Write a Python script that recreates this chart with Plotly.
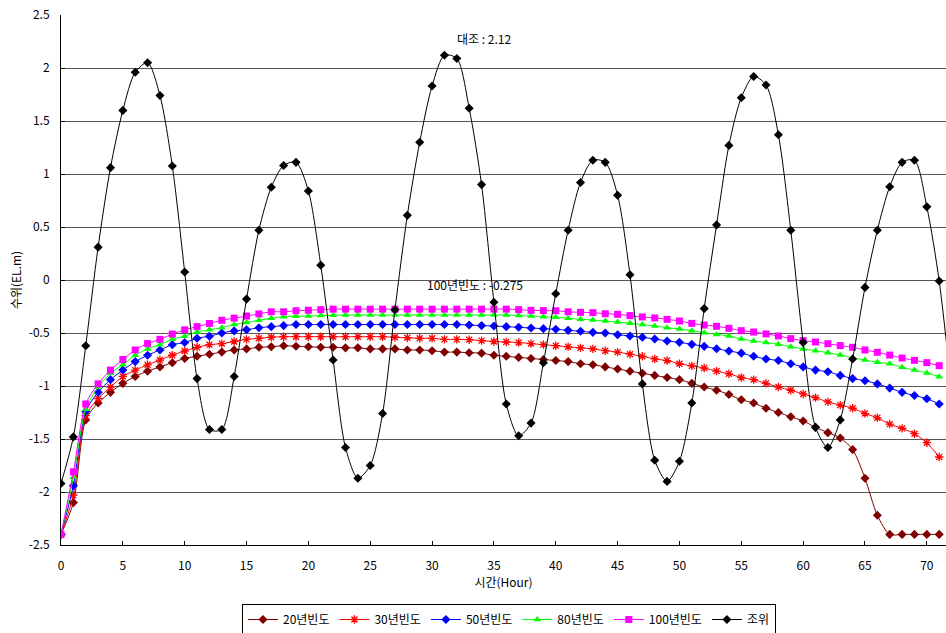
import plotly.graph_objects as go

# Hourly series (hour 0..71); the tide record runs one hour further
hours = list(range(0, 72))
tide_hours = list(range(0, 73))

freq20 = [-2.40, -2.10, -1.32, -1.16, -1.06, -0.975, -0.91, -0.86, -0.82, -0.78,
          -0.74, -0.72, -0.70, -0.68, -0.66, -0.65, -0.635, -0.63, -0.62, -0.625,
          -0.63, -0.635, -0.635, -0.64, -0.64, -0.65, -0.65, -0.65, -0.66, -0.66,
          -0.667, -0.68, -0.68, -0.686, -0.69, -0.71, -0.72, -0.73, -0.74, -0.75,
          -0.76, -0.77, -0.79, -0.80, -0.82, -0.84, -0.86, -0.88, -0.90, -0.92,
          -0.94, -0.975, -1.01, -1.04, -1.08, -1.13, -1.16, -1.21, -1.25, -1.29,
          -1.33, -1.39, -1.44, -1.49, -1.60, -1.87, -2.22, -2.40, -2.40, -2.40,
          -2.40, -2.40]

freq30 = [-2.40, -2.03, -1.28, -1.12, -1.01, -0.91, -0.85, -0.80, -0.755, -0.71,
          -0.67, -0.635, -0.61, -0.60, -0.58, -0.56, -0.55, -0.54, -0.535, -0.535,
          -0.535, -0.535, -0.535, -0.535, -0.535, -0.535, -0.535, -0.54, -0.545, -0.55,
          -0.55, -0.56, -0.56, -0.563, -0.572, -0.58, -0.585, -0.59, -0.60, -0.61,
          -0.62, -0.63, -0.64, -0.65, -0.667, -0.68, -0.70, -0.72, -0.745, -0.76,
          -0.79, -0.81, -0.83, -0.86, -0.885, -0.92, -0.94, -0.975, -1.01, -1.04,
          -1.075, -1.11, -1.15, -1.18, -1.21, -1.26, -1.30, -1.36, -1.40, -1.45,
          -1.535, -1.67]

freq50 = [-2.40, -1.94, -1.24, -1.06, -0.94, -0.85, -0.77, -0.71, -0.66, -0.61,
          -0.59, -0.55, -0.53, -0.50, -0.48, -0.47, -0.45, -0.44, -0.43, -0.42,
          -0.42, -0.42, -0.42, -0.42, -0.42, -0.42, -0.42, -0.42, -0.42, -0.42,
          -0.42, -0.42, -0.42, -0.425, -0.43, -0.434, -0.44, -0.446, -0.453, -0.459,
          -0.465, -0.475, -0.484, -0.494, -0.50, -0.516, -0.528, -0.54, -0.557, -0.575,
          -0.588, -0.607, -0.626, -0.648, -0.67, -0.69, -0.72, -0.745, -0.76, -0.79,
          -0.82, -0.85, -0.865, -0.90, -0.93, -0.95, -0.98, -1.02, -1.06, -1.09,
          -1.12, -1.17]

freq80 = [-2.40, -1.86, -1.22, -1.01, -0.88, -0.80, -0.71, -0.65, -0.61, -0.56,
          -0.53, -0.49, -0.47, -0.45, -0.42, -0.40, -0.38, -0.36, -0.346, -0.343,
          -0.34, -0.336, -0.333, -0.33, -0.33, -0.33, -0.33, -0.33, -0.33, -0.33,
          -0.33, -0.33, -0.33, -0.33, -0.33, -0.33, -0.33, -0.336, -0.34, -0.346,
          -0.352, -0.36, -0.371, -0.377, -0.387, -0.396, -0.409, -0.42, -0.434, -0.45,
          -0.462, -0.478, -0.497, -0.513, -0.528, -0.557, -0.575, -0.59, -0.607, -0.63,
          -0.65, -0.667, -0.686, -0.708, -0.733, -0.755, -0.777, -0.79, -0.824, -0.85,
          -0.877, -0.912]

freq100 = [-2.40, -1.81, -1.17, -0.98, -0.85, -0.75, -0.66, -0.60, -0.56, -0.51,
           -0.47, -0.44, -0.41, -0.38, -0.36, -0.34, -0.32, -0.30, -0.30, -0.29,
           -0.285, -0.28, -0.275, -0.275, -0.275, -0.275, -0.275, -0.275, -0.275, -0.275,
           -0.275, -0.275, -0.275, -0.275, -0.275, -0.275, -0.275, -0.28, -0.286, -0.289,
           -0.29, -0.30, -0.305, -0.308, -0.318, -0.324, -0.336, -0.349, -0.358, -0.371,
           -0.387, -0.409, -0.425, -0.437, -0.456, -0.478, -0.491, -0.509, -0.528, -0.553,
           -0.572, -0.585, -0.601, -0.619, -0.635, -0.66, -0.682, -0.708, -0.736, -0.758,
           -0.78, -0.808]

tide = [-1.92, -1.48, -0.62, 0.31, 1.06, 1.60, 1.96, 2.05, 1.74, 1.075,
        0.075, -0.93, -1.41, -1.41, -0.91, -0.18, 0.47, 0.875, 1.08, 1.11,
        0.84, 0.14, -0.755, -1.58, -1.87, -1.75, -1.26, -0.28, 0.61, 1.30,
        1.83, 2.12, 2.09, 1.62, 0.90, -0.21, -1.17, -1.47, -1.35, -0.78,
        -0.13, 0.47, 0.92, 1.13, 1.11, 0.80, 0.05, -0.98, -1.70, -1.90,
        -1.71, -1.16, -0.27, 0.52, 1.27, 1.72, 1.92, 1.84, 1.37, 0.47,
        -0.59, -1.39, -1.58, -1.32, -0.745, -0.07, 0.47, 0.88, 1.11, 1.13,
        0.69, -0.01, -1.05]

series_names = ["20년빈도", "30년빈도", "50년빈도", "80년빈도", "100년빈도", "조위"]
y_tick_vals = [2.5, 2, 1.5, 1, 0.5, 0, -0.5, -1, -1.5, -2, -2.5]
y_tick_text = ["2.5", "2", "1.5", "1", "0.5", "0", "-0.5", "-1", "-1.5", "-2", "-2.5"]
y_grid_vals = [2, 1.5, 1, 0.5, 0, -0.5, -1, -1.5, -2]
x_tick_vals = list(range(0, 75, 5))

FONT = "Noto Sans CJK KR, Liberation Sans, sans-serif"

styles = [
    dict(color="#800000", symbol="diamond", size=7),
    dict(color="#FF0000", symbol="asterisk-open", size=7),
    dict(color="#0000FF", symbol="diamond", size=7),
    dict(color="#00FF00", symbol="triangle-up", size=7),
    dict(color="#FF00FF", symbol="square", size=7),
    dict(color="#000000", symbol="diamond", size=7),
]

fig = go.Figure()
all_series = [(hours, freq20), (hours, freq30), (hours, freq50),
              (hours, freq80), (hours, freq100), (tide_hours, tide)]
for (xs, ys), name, st in zip(all_series, series_names, styles):
    marker = dict(symbol=st["symbol"], size=st["size"], color=st["color"])
    if st["symbol"] == "asterisk-open":
        marker["line"] = dict(color=st["color"], width=1.3)
    fig.add_trace(go.Scatter(
        x=xs, y=ys, name=name, mode="lines+markers",
        line=dict(color=st["color"], width=1, shape="spline", smoothing=0.8),
        marker=marker,
    ))

# Annotations with the peak values
fig.add_annotation(x=34.2, y=2.28, text="대조 : 2.12", showarrow=False,
                   font=dict(size=12, color="#000000", family=FONT))
fig.add_annotation(x=33.5, y=-0.04, text="100년빈도 : -0.275", showarrow=False,
                   font=dict(size=12, color="#000000", family=FONT))

fig.update_layout(
    width=946, height=633,
    margin=dict(l=61, r=0, t=15, b=88),
    paper_bgcolor="white", plot_bgcolor="white",
    font=dict(family=FONT, size=12, color="#000000"),
    showlegend=True,
    legend=dict(orientation="h", x=509 / 946, xref="container", xanchor="center",
                y=(633 - 604) / 633, yref="container", yanchor="top",
                bordercolor="#000000", borderwidth=1, bgcolor="white",
                font=dict(size=12, family=FONT), itemwidth=30,
                tracegroupgap=0),
    xaxis=dict(range=[0, 71.55], tickvals=x_tick_vals, showgrid=False, zeroline=False,
               showline=True, linecolor="#000000", linewidth=1,
               ticks="inside", ticklen=4, tickcolor="#000000",
               ticklabelstandoff=10, automargin=False,
               title=dict(text="시간(Hour)", font=dict(size=12), standoff=6),
               tickfont=dict(size=12)),
    yaxis=dict(range=[-2.5, 2.5], tickvals=y_tick_vals, ticktext=y_tick_text,
               showgrid=False, zeroline=False, showline=True, linecolor="#000000",
               linewidth=1, ticks="inside", ticklen=4, tickcolor="#000000",
               ticklabelstandoff=8, automargin=False,
               title=dict(text="수위(EL.m)", font=dict(size=12), standoff=4),
               tickfont=dict(size=12),
               # horizontal gridlines at the interior levels only
               minor=dict(tickvals=y_grid_vals, showgrid=True, gridcolor="#555555",
                          gridwidth=1, ticks="")),
)

fig.write_html("out.html")
